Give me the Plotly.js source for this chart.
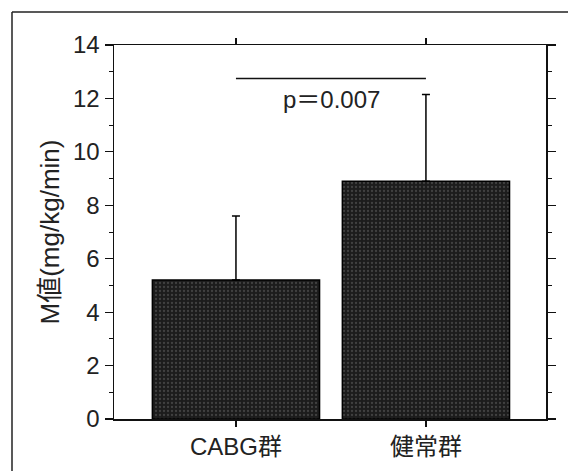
<!DOCTYPE html>
<html>
<head>
<meta charset="utf-8">
<script src="https://cdn.plot.ly/plotly-3.0.1.min.js"></script>
<style>html,body{margin:0;padding:0;background:#fff;}</style>
</head>
<body>
<div id="chart" style="width:568px;height:471px;"></div>
<script>
const categories = ["CABG群", "健常群"];
const meanValues = [5.2, 8.9];
const sdValues = [2.4, 3.25];
const pLabel = "p＝0.007";
const sigLineY = 12.75;
const pLabelY = 11.95;

const W = 568, H = 471;
const M = {l: 114, r: 22, t: 45, b: 52};
const pw = W - M.l - M.r, ph = H - M.t - M.b;
const px = v => (v - M.l) / pw;
const py = v => (H - M.b - v) / ph;

const FONT = "Liberation Sans, Arial, 'Noto Sans CJK JP', sans-serif";

const trace = {
  type: "bar",
  x: categories,
  y: meanValues,
  width: 0.88,
  marker: {
    color: "#2a2a2a",
    line: {color: "#000", width: 1.5},
    pattern: {shape: ".", bgcolor: "#1c1c1c", fgcolor: "#666", size: 4, solidity: 0.25, fillmode: "overlay"}
  },
  error_y: {type: "data", array: sdValues, arrayminus: [0, 0], symmetric: false, color: "#000", thickness: 1.5, width: 4},
  hoverinfo: "none"
};

const layout = {
  width: W, height: H,
  margin: M,
  paper_bgcolor: "#fff", plot_bgcolor: "#fff",
  showlegend: false,
  font: {family: FONT, size: 24, color: "#222"},
  xaxis: {
    type: "category",
    range: [-0.642, 1.632],
    showline: true, linecolor: "#111", linewidth: 1.5,
    mirror: "ticks", ticks: "outside", ticklen: 6, tickwidth: 1.2, tickcolor: "#111",
    showgrid: false, zeroline: false,
    tickfont: {size: 24, family: FONT, color: "#222"}
  },
  yaxis: {
    range: [0, 14], dtick: 2, tick0: 0,
    showline: true, linecolor: "#111", linewidth: 1.5,
    mirror: "ticks", ticks: "outside", ticklen: 8, tickwidth: 1.2, tickcolor: "#111",
    minor: {dtick: 1, ticks: "outside", ticklen: 4, tickcolor: "#111", tickwidth: 1},
    showgrid: false, zeroline: false,
    tickfont: {size: 24, family: FONT, color: "#222"},
    automargin: false,
    title: {text: "M値(mg/kg/min)", font: {size: 26, family: FONT, color: "#222"}, standoff: 6}
  },
  shapes: [
    {type: "line", xref: "x", yref: "y", x0: 0, x1: 1, y0: sigLineY, y1: sigLineY, line: {color: "#111", width: 1.5}},
    {type: "line", xref: "paper", yref: "paper", x0: px(12), x1: px(568), y0: py(12), y1: py(12), line: {color: "#222", width: 1.5}},
    {type: "line", xref: "paper", yref: "paper", x0: px(12), x1: px(12), y0: py(12), y1: py(471), line: {color: "#222", width: 1.5}}
  ],
  annotations: [
    {xref: "paper", yref: "y", x: 0.5 * (px(236) + px(426)), y: pLabelY, text: pLabel, showarrow: false,
     font: {size: 24, family: FONT, color: "#222"}, xanchor: "center", yanchor: "middle"}
  ]
};

Plotly.newPlot("chart", [trace], layout, {staticPlot: true, displayModeBar: false});
</script>
</body>
</html>
